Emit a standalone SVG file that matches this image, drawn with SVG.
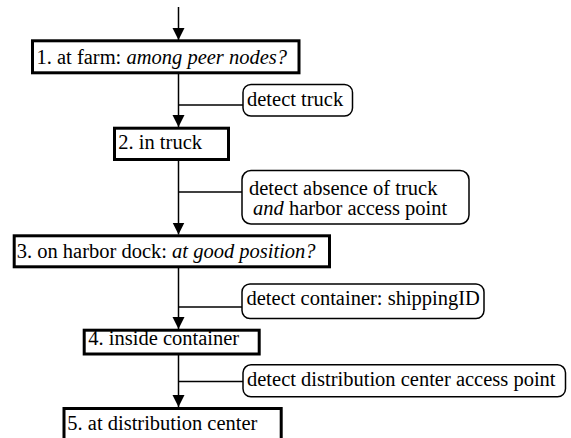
<svg xmlns="http://www.w3.org/2000/svg" width="571" height="438" viewBox="0 0 571 438">
<style>
.node rect{fill:#fff;stroke:#000;stroke-width:3}
.lbl rect{fill:#fff;stroke:#000;stroke-width:1.5}
text{font-family:'Liberation Serif','Times New Roman',serif;font-size:20.5px;fill:#000}
.it{font-style:italic}
.conn line{stroke:#000;stroke-width:1.5}
</style>
<defs>
<marker id="ah" markerUnits="userSpaceOnUse" markerWidth="12" markerHeight="13" refX="12" refY="6" orient="auto" viewBox="0 0 12 12">
<path d="M0,0 L12,6 L0,12 z" fill="#000"/>
</marker>
</defs>
<g id="connectors" class="conn">
<line x1="178.5" y1="7" x2="178.5" y2="40" marker-end="url(#ah)"/>
<line x1="178.5" y1="74" x2="178.5" y2="127" marker-end="url(#ah)"/>
<line x1="178.5" y1="161" x2="178.5" y2="234.5" marker-end="url(#ah)"/>
<line x1="178.5" y1="268" x2="178.5" y2="329" marker-end="url(#ah)"/>
<line x1="178.5" y1="355" x2="178.5" y2="407" marker-end="url(#ah)"/>
<line x1="178.5" y1="105" x2="243" y2="105"/>
<line x1="178.5" y1="192" x2="242" y2="192"/>
<line x1="178.5" y1="307" x2="242" y2="307"/>
<line x1="178.5" y1="381.5" x2="243" y2="381.5"/>
</g>
<g id="n1" class="node">
<rect x="32.5" y="40.8" width="266.5" height="32"/>
<text x="36.5" y="64.3">1. at farm: <tspan class="it">among peer nodes?</tspan></text>
</g>
<g id="n2" class="node">
<rect x="114.5" y="128.2" width="114" height="31.3"/>
<text x="118.3" y="149">2. in truck</text>
</g>
<g id="n3" class="node">
<rect x="14.2" y="235.8" width="315.3" height="31"/>
<text x="16.7" y="258">3. on harbor dock: <tspan class="it">at good position?</tspan></text>
</g>
<g id="n4" class="node">
<rect x="84.2" y="330.2" width="175" height="23.8"/>
<text x="88.3" y="345">4. inside container</text>
</g>
<g id="n5" class="node">
<rect x="64" y="408.5" width="217.2" height="40"/>
<text x="67.3" y="430">5. at distribution center</text>
</g>
<g id="l1" class="lbl">
<rect x="243" y="84.5" width="109.5" height="31.5" rx="8"/>
<text x="247" y="106">detect truck</text>
</g>
<g id="l2" class="lbl">
<rect x="242" y="170.5" width="227" height="53.5" rx="9"/>
<text x="249" y="194.5">detect absence of truck</text>
<text x="253" y="214.5"><tspan class="it">and</tspan> harbor access point</text>
</g>
<g id="l3" class="lbl">
<rect x="242" y="284" width="242" height="34.5" rx="8"/>
<text x="246.5" y="305">detect container: shippingID</text>
</g>
<g id="l4" class="lbl">
<rect x="243" y="364.8" width="322.5" height="32" rx="8"/>
<text x="247" y="386">detect distribution center access point</text>
</g>
</svg>
